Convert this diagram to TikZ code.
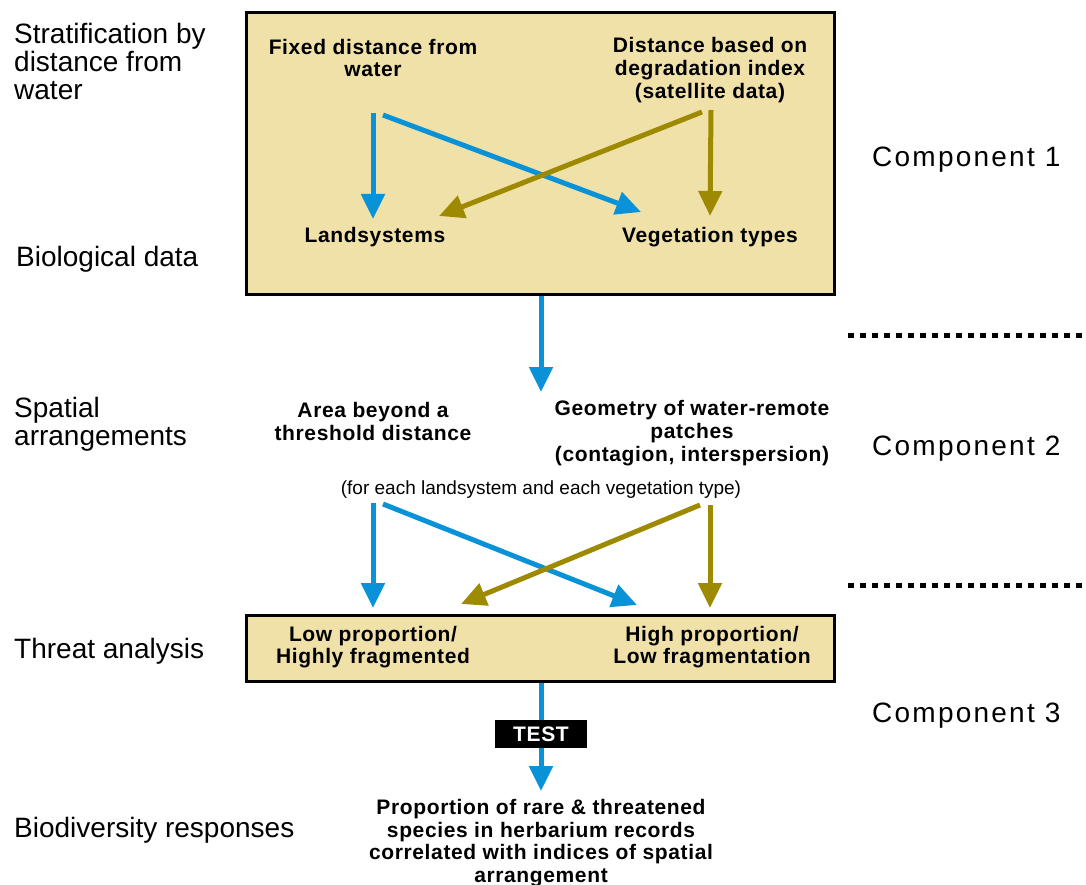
\documentclass[tikz,border=0pt]{standalone}
\usepackage{fontspec}
\setmainfont{Liberation Sans}
\newfontfamily\compfont[LetterSpace=8]{Liberation Sans}
\newfontfamily\boldsp[LetterSpace=3]{Liberation Sans}
\usetikzlibrary{arrows.meta}
\definecolor{boxfill}{HTML}{F0E1A9}
\definecolor{arrblue}{HTML}{0A92D8}
\definecolor{arrolive}{HTML}{9E8A00}
\begin{document}
\begin{tikzpicture}[x=1pt,y=-1pt,
  lbl/.style={font=\fontsize{28}{28}\selectfont, align=left, inner sep=0, anchor=west},
  comp/.style={font=\compfont\fontsize{28}{28}\selectfont, inner sep=0, anchor=west},
  btxt/.style={font=\boldsp\bfseries\fontsize{21}{22.7}\selectfont, align=center, inner sep=0},
  panel/.style={draw=black, line width=3pt, fill=boxfill, anchor=north west, inner sep=0},
  barr/.style={draw=arrblue, line width=5pt, -{Triangle[width=23pt,length=25pt]}},
  oarr/.style={draw=arrolive, line width=5pt, -{Triangle[width=23pt,length=25pt]}},
  sepline/.style={line width=5pt, dash pattern=on 6pt off 6pt},
]
\useasboundingbox (0,0) rectangle (1086,885);

% left labels
\node[lbl] (l1) at (14,61) {Stratification by\\distance from\\water};
\node[lbl] (l2) at (16,259) {Biological data};
\node[lbl] (l3) at (14,424) {Spatial\\arrangements};
\node[lbl] (l4) at (14,651) {Threat analysis};
\node[lbl] (l5) at (14,830) {Biodiversity responses};

% components
\node[comp] (c1) at (872,160) {Component 1};
\node[comp] (c2) at (872,449) {Component 2};
\node[comp] (c3) at (872,716) {Component 3};
\coordinate (d1a) at (848,335); \coordinate (d1b) at (1086,335);
\coordinate (d2a) at (848,585); \coordinate (d2b) at (1086,585);
\draw[sepline] (d1a) -- (d1b);
\draw[sepline] (d2a) -- (d2b);

% top panel
\node[panel, minimum width=588pt, minimum height=282pt] (top) at (245,11) {};
\node[btxt] (fixed) at (373,58) {Fixed distance from\\water};
\node[btxt] (degr) at (710,70) {Distance based on\\degradation index\\(satellite data)};
\node[btxt] (land) at (375,237) {Landsystems};
\node[btxt] (veg) at (710,237) {Vegetation types};
\coordinate (b1s) at (373,113); \coordinate (b1e) at (373,219);
\coordinate (b2s) at (383,115); \coordinate (b2e) at (641,212);
\coordinate (o1s) at (702,112); \coordinate (o1e) at (439,216);
\coordinate (o2s) at (711,110); \coordinate (o2e) at (710,216);
\draw[barr] (b1s) -- (b1e);
\draw[barr] (b2s) -- (b2e);
\draw[oarr] (o1s) -- (o1e);
\draw[oarr] (o2s) -- (o2e);

% middle
\coordinate (m1s) at (541,296); \coordinate (m1e) at (541,392);
\draw[barr] (m1s) -- (m1e);
\node[btxt] (area) at (373,421.5) {Area beyond a\\threshold distance};
\node[btxt] (geom) at (692,433) {Geometry of water-remote\\patches\\(contagion, interspersion)};
\node[inner sep=0, font=\fontsize{19}{20}\selectfont] (each) at (541,490) {(for each landsystem and each vegetation type)};
\coordinate (b3s) at (373,503); \coordinate (b3e) at (373,608);
\coordinate (b4s) at (383,504); \coordinate (b4e) at (637,605);
\coordinate (o3s) at (700,505); \coordinate (o3e) at (461,604);
\coordinate (o4s) at (710,505); \coordinate (o4e) at (710,608);
\draw[barr] (b3s) -- (b3e);
\draw[barr] (b4s) -- (b4e);
\draw[oarr] (o3s) -- (o3e);
\draw[oarr] (o4s) -- (o4e);

% threat panel
\node[panel, minimum width=588pt, minimum height=66pt] (threat) at (245,614) {};
\node[btxt] (low) at (373,647) {Low proportion/\\Highly fragmented};
\node[btxt] (high) at (712,647) {High proportion/\\Low fragmentation};

% bottom
\coordinate (m2s) at (541,683); \coordinate (m2e) at (541,791);
\draw[barr] (m2s) -- (m2e);
\node[fill=black, text=white, font=\boldsp\bfseries\fontsize{21}{22}\selectfont, minimum width=92pt, minimum height=28pt, inner sep=0] (test) at (541,734) {TEST};
\node[btxt] (resp) at (541,843) {Proportion of rare \& threatened\\species in herbarium records\\correlated with indices of spatial\\arrangement};
\end{tikzpicture}
\end{document}
